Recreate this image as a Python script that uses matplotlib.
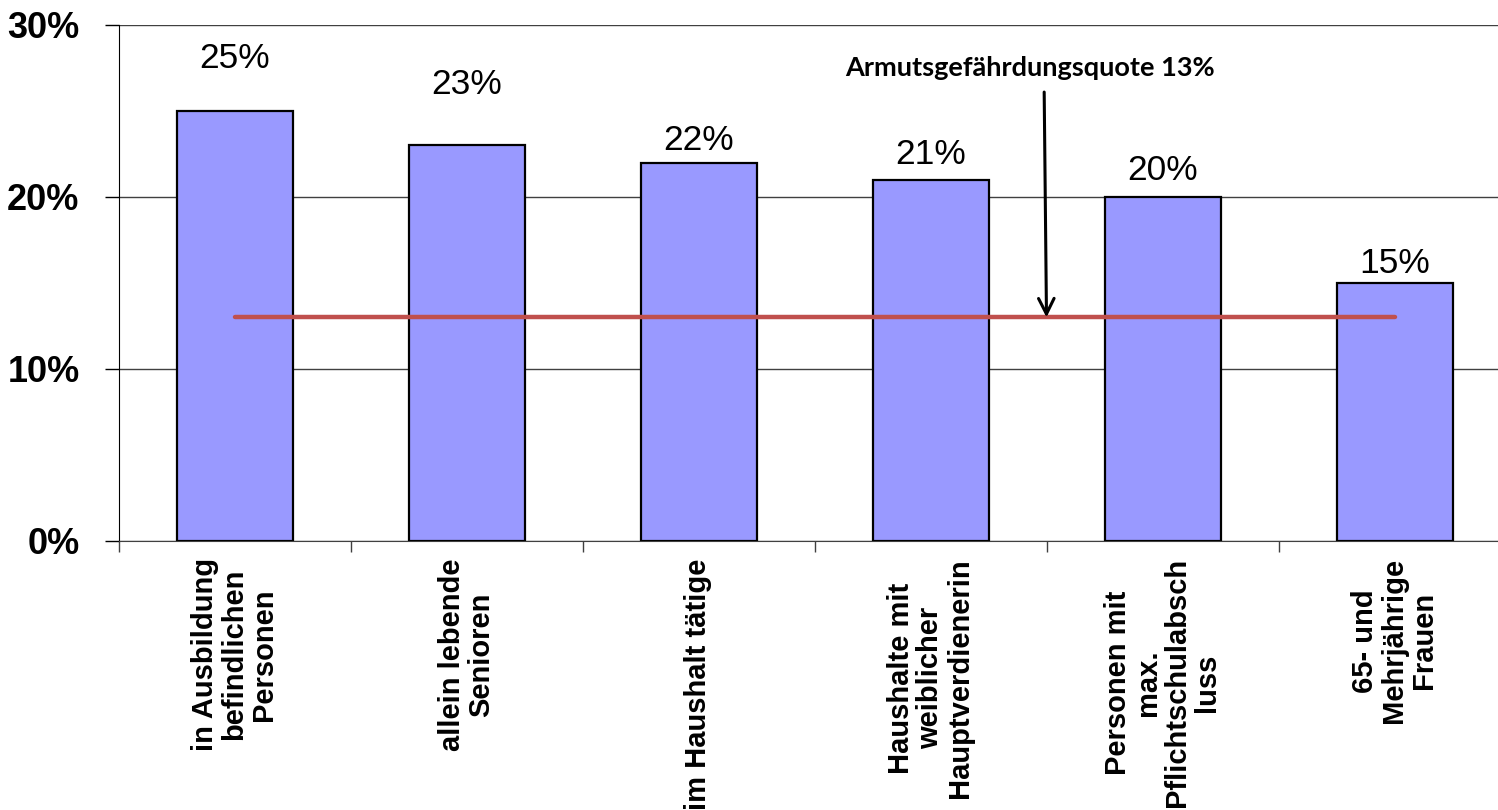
import matplotlib
matplotlib.use('agg')
import matplotlib.pyplot as plt
from matplotlib.ticker import PercentFormatter

# data
categories = [
    'in Ausbildung\nbefindlichen\nPersonen',
    'allein lebende\nSenioren',
    'im Haushalt tätige',
    'Haushalte mit\nweiblicher\nHauptverdienerin',
    'Personen mit\nmax.\nPflichtschulabsch\nluss',
    '65- und\nMehrjährige\nFrauen',
]
values = [25, 23, 22, 21, 20, 15]
value_labels = ['25%', '23%', '22%', '21%', '20%', '15%']
# where the value labels sit (bottom of text, in percent units)
label_y = [27.1, 25.6, 22.3, 21.5, 20.6, 15.2]
poverty_rate = 13
poverty_text = 'Armutsgefährdungsquote 13%'

plt.rcParams['font.family'] = ['Liberation Sans', 'DejaVu Sans']

fig = plt.figure(figsize=(14.98, 8.10), dpi=100)
ax = fig.add_axes([118.5 / 1498, 1 - 541 / 810, 1392 / 1498, 516 / 810])

x = list(range(len(categories)))
ax.bar(x, values, width=0.5, color='#9999FF', edgecolor='black', linewidth=1.6, zorder=3)

# poverty threshold line from first to last bar centre
ax.plot([x[0], x[-1]], [poverty_rate, poverty_rate], color='#C0504D', linewidth=3.2,
        solid_capstyle='round', zorder=4)

for xi, lab, ly in zip(x, value_labels, label_y):
    ax.text(xi, ly, lab, ha='center', va='bottom', fontsize=25.5, zorder=5)

# annotation: text plus a straight arrow down onto the threshold line
ax.text(3.43, 27.5, poverty_text, ha='center', va='center', fontsize=19.5,
        fontweight='bold', family='Lato', zorder=6)
ax.annotate('', xy=(3.5, poverty_rate), xytext=(3.49, 26.1),
            arrowprops=dict(arrowstyle='->', color='black', lw=2.2,
                            mutation_scale=28, shrinkA=0, shrinkB=0),
            zorder=6)

ax.set_xlim(-0.5, len(categories) - 0.5)
ax.set_ylim(0, 30)
ax.yaxis.set_major_formatter(PercentFormatter(decimals=0))
ax.set_yticks([0, 10, 20, 30])
ax.yaxis.grid(True, color='#404040', linewidth=1.0, zorder=0)
for lbl in ax.get_yticklabels():
    lbl.set_fontsize(26)
    lbl.set_fontweight('bold')
ax.tick_params(axis='y', length=10, width=1.0, pad=18)

# category ticks sit between the bars
ax.set_xticks([i - 0.5 for i in x] + [len(categories) - 0.5])
ax.set_xticklabels([])
ax.tick_params(axis='x', length=8, width=1.0, color='#404040')
for xi, cat in zip(x, categories):
    ax.text(xi, -1.0, cat, rotation=90, ha='center', va='top', multialignment='center',
            fontsize=21, fontweight='bold', linespacing=1.08)

ax.spines['top'].set_visible(False)
ax.spines['right'].set_visible(False)
ax.spines['left'].set_color('black')
ax.spines['bottom'].set_color('#404040')

fig.savefig('out.png', dpi=100)
